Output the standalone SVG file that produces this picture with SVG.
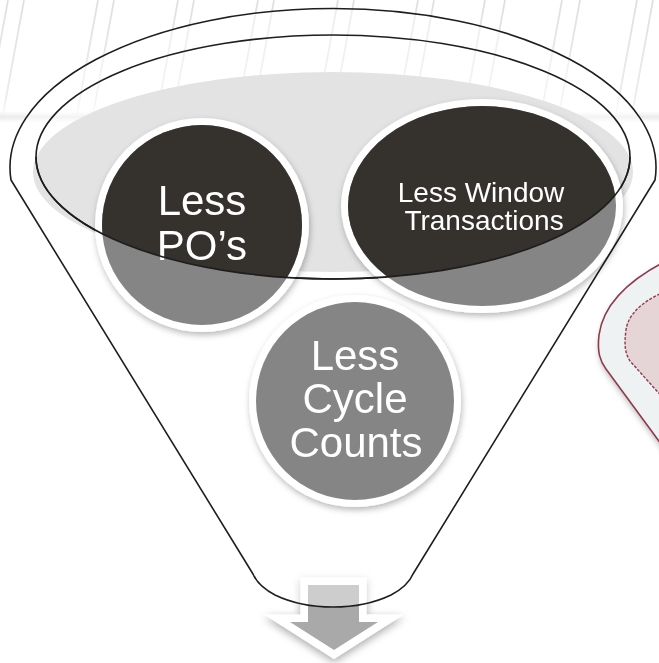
<svg xmlns="http://www.w3.org/2000/svg" width="659" height="663" viewBox="0 0 659 663">
  <style>
    .lbl { font-family: "Liberation Sans", Arial, sans-serif; fill: #ffffff; text-anchor: middle; }
    .big { font-size: 42px; }
    .small { font-size: 28px; }
    .rim { fill: none; stroke: #1e1e1e; stroke-width: 1.6; }
    .ring { fill: #ffffff; }
    .mid { fill: #858585; }
    .dark { fill: #35332f; }
    .stripe { stroke: url(#stripeFade); stroke-width: 1.8; fill: none; }
  </style>
  <defs>
    <linearGradient id="stripeFade" gradientUnits="userSpaceOnUse" x1="0" y1="0" x2="0" y2="122">
      <stop offset="0" stop-color="#dcdcdc" stop-opacity="0.9"/>
      <stop offset="0.8" stop-color="#e2e2e2" stop-opacity="0.7"/>
      <stop offset="1" stop-color="#e8e8e8" stop-opacity="0"/>
    </linearGradient>
    <linearGradient id="bandFade" x1="0" y1="0" x2="0" y2="1">
      <stop offset="0" stop-color="#eeeeee" stop-opacity="0"/>
      <stop offset="0.5" stop-color="#ebebeb" stop-opacity="1"/>
      <stop offset="1" stop-color="#eeeeee" stop-opacity="0"/>
    </linearGradient>
    <clipPath id="rimClip">
      <ellipse cx="333" cy="157" rx="297" ry="122"/>
    </clipPath>
    <filter id="shadow" x="-20%" y="-20%" width="140%" height="150%">
      <feDropShadow dx="1" dy="3" stdDeviation="3" flood-color="#000" flood-opacity="0.28"/>
    </filter>
    <filter id="arrowShadow" x="-40%" y="-40%" width="180%" height="180%">
      <feDropShadow dx="0" dy="3" stdDeviation="4" flood-color="#000" flood-opacity="0.35"/>
    </filter>
    <filter id="badgeShadow" x="-40%" y="-40%" width="180%" height="180%">
      <feDropShadow dx="2" dy="4" stdDeviation="3" flood-color="#000" flood-opacity="0.3"/>
    </filter>
  </defs>

  <rect width="659" height="663" fill="#ffffff"/>

  <!-- faint background stripes -->
  <g id="background">
    <path class="stripe" d="M8,0 L-14,120 M24,0 L2,120 M98,0 L76,120 M114,0 L92,120 M178,0 L156,120 M194,0 L172,120 M258,0 L236,120 M274,0 L252,120 M338,0 L316,120 M354,0 L332,120 M418,0 L396,120 M434,0 L412,120 M485,0 L463,120 M505,0 L483,120 M562,0 L540,120 M580,0 L558,120 M637,0 L615,120 M653,0 L631,120"/>
    <rect x="0" y="111" width="659" height="12" fill="url(#bandFade)"/>
  </g>

  <!-- partial red badge at right edge -->
  <g id="side-badge" filter="url(#badgeShadow)">
    <path d="M664,262 C626,282 603,305 599,335 C597,352 600,361 606,369 L664,448 Z" fill="#eef2f3" stroke="#8e3b4b" stroke-width="1.6"/>
    <path d="M664,292 C641,302 628,315 626,330 C624,345 625,353 630,361 L664,399 Z" fill="#e6d5d7" stroke="#8e3b4b" stroke-width="1.4" stroke-dasharray="3 1.5"/>
  </g>

  <!-- output arrow -->
  <g id="connectors">
    <path id="output-arrow" d="M308,585 H359 V622 H378 L334,650 L290,622 H308 Z" fill="#a9a9a9" stroke="#ffffff" stroke-width="15" stroke-linejoin="miter" stroke-miterlimit="10" paint-order="stroke" filter="url(#arrowShadow)"/>
  </g>

  <!-- funnel body -->
  <g id="funnel">
    <path d="M11,180 A323 159 0 1 1 655,180 L413,574 Q408,586 391,595 Q366,607 333,607 Q300,607 275,595 Q258,586 253,574 Z" fill="#ffffff" fill-opacity="0.42" stroke="#1e1e1e" stroke-width="1.6" stroke-linejoin="round"/>
    <ellipse cx="333" cy="172" rx="300" ry="100" fill="#e3e3e3"/>
    <ellipse class="rim" cx="333" cy="157" rx="297" ry="122"/>
  </g>

  <!-- nodes -->
  <g id="node-less-pos" filter="url(#shadow)">
    <circle class="ring" cx="202" cy="225" r="107"/>
    <circle class="mid" cx="202" cy="225" r="100"/>
    <circle class="dark" cx="202" cy="225" r="100" clip-path="url(#rimClip)"/>
    <text class="lbl big" x="202" y="215">Less</text>
    <text class="lbl big" x="202" y="260">PO’s</text>
  </g>

  <g id="node-less-window-transactions" filter="url(#shadow)">
    <ellipse class="ring" cx="482" cy="206" rx="141" ry="107"/>
    <ellipse class="mid" cx="482" cy="206" rx="134" ry="100"/>
    <ellipse class="dark" cx="482" cy="206" rx="134" ry="100" clip-path="url(#rimClip)"/>
    <text class="lbl small" x="481" y="202">Less Window</text>
    <text class="lbl small" x="484" y="230">Transactions</text>
  </g>

  <g id="node-less-cycle-counts" filter="url(#shadow)">
    <circle class="ring" cx="355" cy="401" r="106"/>
    <circle class="mid" cx="355" cy="401" r="99"/>
    <text class="lbl big" x="355" y="370">Less</text>
    <text class="lbl big" x="355" y="413">Cycle</text>
    <text class="lbl big" x="356" y="457">Counts</text>
  </g>

  <!-- rim front edge drawn over the nodes -->
  <g id="rim-front">
    <path class="rim" d="M36,157 A297 122 0 0 0 630,157"/>
  </g>
</svg>
